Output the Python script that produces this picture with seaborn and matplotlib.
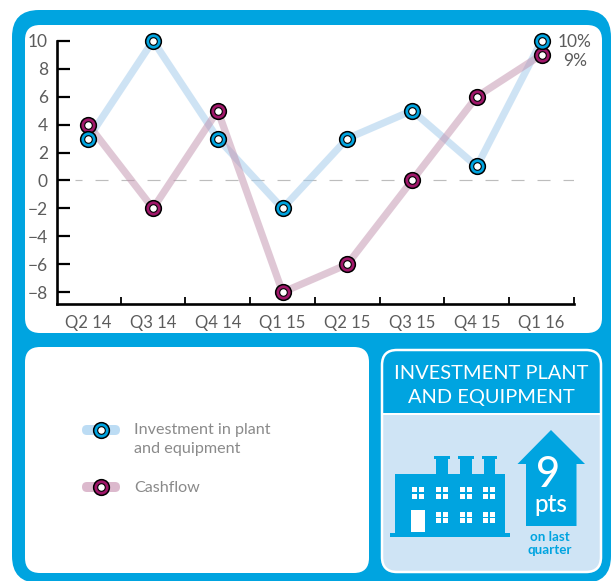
import matplotlib
matplotlib.use("Agg")
import matplotlib.pyplot as plt
from matplotlib.patches import FancyBboxPatch, Polygon, Rectangle
import pandas as pd
import seaborn as sns

quarters = ["Q2 14", "Q3 14", "Q4 14", "Q1 15", "Q2 15", "Q3 15", "Q4 15", "Q1 16"]
investment = [3, 10, 3, -2, 3, 5, 1, 10]
cashflow = [4, -2, 5, -8, -6, 0, 6, 9]
y_ticks = [-8, -6, -4, -2, 0, 2, 4, 6, 8, 10]
headline_change = 9

BLUE = "#00a4e0"
PALE_BLUE = "#cfe4f5"
PURPLE = "#a0176a"
INK = "#5c5c5c"
W, H = 612, 581

sns.set_theme(style="white")
plt.rcParams["font.family"] = ["Lato", "DejaVu Sans"]
plt.rcParams["lines.scale_dashes"] = False

fig = plt.figure(figsize=(W / 100, H / 100), dpi=100, facecolor="white")

# Page furniture, laid out in pixel units
page = fig.add_axes([0, 0, 1, 1])
page.set_xlim(0, W)
page.set_ylim(H, 0)
page.axis("off")


def panel(x0, y0, x1, y1, radius, **kw):
    box = FancyBboxPatch((x0 + radius, y0 + radius), x1 - x0 - 2 * radius, y1 - y0 - 2 * radius,
                         boxstyle=f"round,pad={radius},rounding_size={radius}", **kw)
    page.add_patch(box)
    return box


panel(12, 10, 611, 583, 27, fc=BLUE, ec="none")
panel(25, 25, 602, 333, 15, fc="white", ec="none")
panel(25, 347, 369, 573, 15, fc="white", ec="none")

# Headline card
card = panel(382, 350, 601, 572, 15, fc=PALE_BLUE, ec="none")
header = Rectangle((382, 350), 219, 63, fc=BLUE, ec="none")
page.add_patch(header)
header.set_clip_path(card)
page.add_patch(Rectangle((383, 412.5), 217, 2.5, fc="white", ec="none"))
panel(382, 350, 601, 572, 15, fc="none", ec="white", lw=1.8)
page.text(491, 373.5, "INVESTMENT PLANT", color="white", fontsize=14.4, ha="center", va="center")
page.text(491, 397.5, "AND EQUIPMENT", color="white", fontsize=14.4, ha="center", va="center")

# Factory pictogram
page.add_patch(Rectangle((390, 532.5), 120, 4.5, fc=BLUE, ec="none"))
page.add_patch(Rectangle((395, 473.5), 110, 60, fc=BLUE, ec="none"))
for left in (436, 460, 483.5):
    page.add_patch(Rectangle((left, 457), 11.5, 18, fc=BLUE, ec="none"))
    page.add_patch(Rectangle((left - 2, 455.5), 15.5, 3, fc=BLUE, ec="none"))
for row, top in enumerate((487, 511.5)):
    for col, left in enumerate((412, 436, 460, 483)):
        if row == 1 and col == 0:
            continue
        for dx in (0, 6.6):
            for dy in (0, 6.6):
                page.add_patch(Rectangle((left + dx, top + dy), 5.2, 5.2, fc="white", ec="none"))
page.add_patch(Rectangle((411, 510), 14, 22, fc="white", ec="none"))

# Up arrow with the headline figure
page.add_patch(Polygon([(551, 430), (585, 464), (576.5, 464), (576.5, 526),
                        (526, 526), (526, 464), (517.5, 464)], fc=BLUE, ec="none"))
page.text(548.5, 475, str(headline_change), color="white", fontsize=30, ha="center", va="center", weight="medium")
page.text(551, 505, "pts", color="white", fontsize=17.5, ha="center", va="center", weight="medium")
page.text(550, 537, "on last", color=BLUE, fontsize=9.6, ha="center", va="center", weight="bold")
page.text(550, 550, "quarter", color=BLUE, fontsize=9.6, ha="center", va="center", weight="bold")


def ring(target, x, y, colour, **kw):
    """Outlined coloured disc with an outlined white centre."""
    sns.scatterplot(x=x, y=y, ax=target, s=128, color=colour, edgecolor="black",
                    linewidth=1.1, legend=False, clip_on=False, **kw)
    sns.scatterplot(x=x, y=y, ax=target, s=30, color="white", edgecolor="black",
                    linewidth=0.8, legend=False, clip_on=False, **kw)


# Legend
for y, pale, colour in ((430, "#bcdcf4", BLUE), (487, "#dcb9cd", PURPLE)):
    panel(82, y - 5, 120, y + 5, 5, fc=pale, ec="none")
    ring(page, [100.5], [y], colour)
page.set_xlim(0, W)
page.set_ylim(H, 0)
page.axis("off")
page.text(134, 430, "Investment in plant", color="#8a8a8a", fontsize=11.6, va="center")
page.text(134, 449, "and equipment", color="#8a8a8a", fontsize=11.6, va="center")
page.text(134, 488, "Cashflow", color="#8a8a8a", fontsize=11.6, va="center")

# Line chart
x_lo, x_hi = -0.483, 7.5
y_lo, y_hi = -8.86, 10
px_left, px_right, px_top, px_bottom = 57, 574, 40.7, 304.3
ax = fig.add_axes([px_left / W, 1 - px_bottom / H, (px_right - px_left) / W, (px_bottom - px_top) / H])
ax.patch.set_alpha(0)

frame = pd.DataFrame({"pos": range(len(quarters)), "quarter": quarters,
                      "investment": investment, "cashflow": cashflow})

ax.axhline(0, xmin=18 / (px_right - px_left), color="#bdbdbd", lw=0.85,
           linestyle=(4.3, (9.36, 9.36)), zorder=1)
for column, colour in (("investment", "#9fc9eb"), ("cashflow", "#c191ad")):
    sns.lineplot(data=frame, x="pos", y=column, ax=ax, color=colour, alpha=0.5, lw=5.2,
                 solid_joinstyle="miter", solid_capstyle="butt", legend=False, zorder=2)
ring(ax, frame["pos"], frame["cashflow"], PURPLE, zorder=3)
ring(ax, frame["pos"], frame["investment"], BLUE, zorder=4)

ax.set_xlim(x_lo, x_hi)
ax.set_ylim(y_lo, y_hi)
ax.set_xlabel("")
ax.set_ylabel("")
ax.set_xticks(frame["pos"], quarters)
ax.set_xticks([p + 0.5 for p in frame["pos"]], minor=True)
ax.set_yticks(y_ticks)
ax.tick_params(axis="x", which="major", length=0, pad=8, labelsize=12, labelcolor=INK)
ax.tick_params(axis="x", which="minor", direction="in", bottom=True, length=5, width=1.3, color="black")
ax.tick_params(axis="y", which="major", direction="in", left=True, length=9, width=1.6, color="black",
               pad=6.5, labelsize=12.5, labelcolor=INK)
sns.despine(ax=ax)
for side in ("left", "bottom"):
    ax.spines[side].set_color("black")
    ax.spines[side].set_linewidth(1.9)

# End-of-series value labels
page.set_zorder(0)
ax.set_zorder(1)
page.text(575, 42, f"{investment[-1]}%", color=INK, fontsize=12.5, ha="center", va="center")
page.text(575, 61, f"{cashflow[-1]}%", color=INK, fontsize=12.5, ha="center", va="center")

fig.savefig("out.png", dpi=100, facecolor="white")
